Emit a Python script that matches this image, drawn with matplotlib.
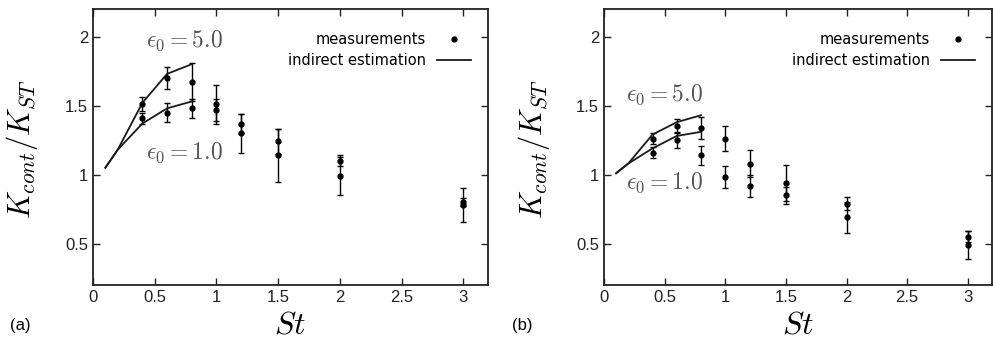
import numpy as np
import matplotlib.pyplot as plt
from matplotlib.lines import Line2D

plt.rcParams['font.family'] = ['Liberation Sans', 'DejaVu Sans']
plt.rcParams['mathtext.fontset'] = 'cm'

# panel (a)
st_meas = [0.4, 0.6, 0.8, 1.0, 1.2, 1.5, 2.0, 3.0]
a_high = [1.51, 1.70, 1.67, 1.51, 1.37, 1.24, 1.10, 0.80]
a_high_err = [0.05, 0.08, 0.14, 0.14, 0.07, 0.09, 0.04, 0.03]
a_low = [1.41, 1.45, 1.48, 1.47, 1.30, 1.14, 0.99, 0.78]
a_low_err = [0.04, 0.07, 0.07, 0.08, 0.14, 0.19, 0.14, 0.12]

st_est = [0.1, 0.2, 0.4, 0.6, 0.8]
a_eps5 = [1.05, 1.18, 1.52, 1.73, 1.80]
a_eps1 = [1.05, 1.18, 1.37, 1.48, 1.53]

# panel (b)
b_high = [1.26, 1.35, 1.34, 1.26, 1.08, 0.94, 0.79, 0.55]
b_high_err = [0.04, 0.05, 0.08, 0.09, 0.10, 0.13, 0.05, 0.04]
b_low = [1.16, 1.25, 1.14, 0.98, 0.92, 0.85, 0.69, 0.49]
b_low_err = [0.04, 0.06, 0.07, 0.08, 0.08, 0.06, 0.11, 0.10]

b_eps5 = [1.01, 1.08, 1.29, 1.38, 1.43]
b_eps1 = [1.01, 1.08, 1.19, 1.28, 1.31]

fig = plt.figure(figsize=(9.93, 3.40), dpi=100)
ax1 = fig.add_axes([93/993, 1-285/340, 395/993, 276/340])
ax2 = fig.add_axes([604/993, 1-285/340, 388/993, 276/340])

panels = [
    (ax1, a_high, a_high_err, a_low, a_low_err, a_eps5, a_eps1,
     (0.74, 1.97), (0.74, 1.16), '(a)', 10/993),
    (ax2, b_high, b_high_err, b_low, b_low_err, b_eps5, b_eps1,
     (0.5, 1.58), (0.5, 0.94), '(b)', 512/993),
]

handles = [Line2D([], [], marker='o', ls='none', ms=3.5, color='black'),
           Line2D([], [], color='#1a1a1a', lw=1.3)]
names = ['measurements', 'indirect estimation']

for ax, hi, hie, lo, loe, e5, e1, p5, p1, tag, tx in panels:
    ax.errorbar(st_meas, hi, yerr=hie, fmt='o', color='black', ms=3.5,
                elinewidth=1.0, capsize=2.5, capthick=1.0)
    ax.errorbar(st_meas, lo, yerr=loe, fmt='o', color='black', ms=3.5,
                elinewidth=1.0, capsize=2.5, capthick=1.0)
    ax.plot(st_est, e5, color='#1a1a1a', lw=1.3)
    ax.plot(st_est, e1, color='#1a1a1a', lw=1.3)
    ax.text(p5[0], p5[1], r'$\epsilon_0 = 5.0$', fontsize=17, color='#555555',
            ha='center', va='center')
    ax.text(p1[0], p1[1], r'$\epsilon_0 = 1.0$', fontsize=17, color='#555555',
            ha='center', va='center')
    ax.set_xlim(0, 3.2)
    ax.set_ylim(0.2, 2.2)
    ax.set_xticks([0, 0.5, 1, 1.5, 2, 2.5, 3])
    ax.set_xticklabels(['0', '0.5', '1', '1.5', '2', '2.5', '3'])
    ax.set_yticks([0.5, 1, 1.5, 2])
    ax.set_yticklabels(['0.5', '1', '1.5', '2'])
    ax.tick_params(direction='in', top=True, right=True, labelsize=12,
                   length=5, width=1, colors='#222222')
    for s in ax.spines.values():
        s.set_linewidth(1.3)
        s.set_color('#222222')
    ax.set_xlabel(r'$St$', fontsize=23, labelpad=4)
    ax.set_ylabel(r'$K_{cont}/K_{ST}$', fontsize=22)
    ax.yaxis.set_label_coords(-0.135, 0.49)
    ax.legend(handles, names, loc='upper right', frameon=False,
              markerfirst=False, handlelength=2.3,
              bbox_to_anchor=(0.99, 0.965), labelspacing=0.4,
              prop={'family': 'DejaVu Sans', 'size': 10.5})
    fig.text(tx, 0.03, tag, fontsize=12)

fig.savefig('out.png', dpi=100)
